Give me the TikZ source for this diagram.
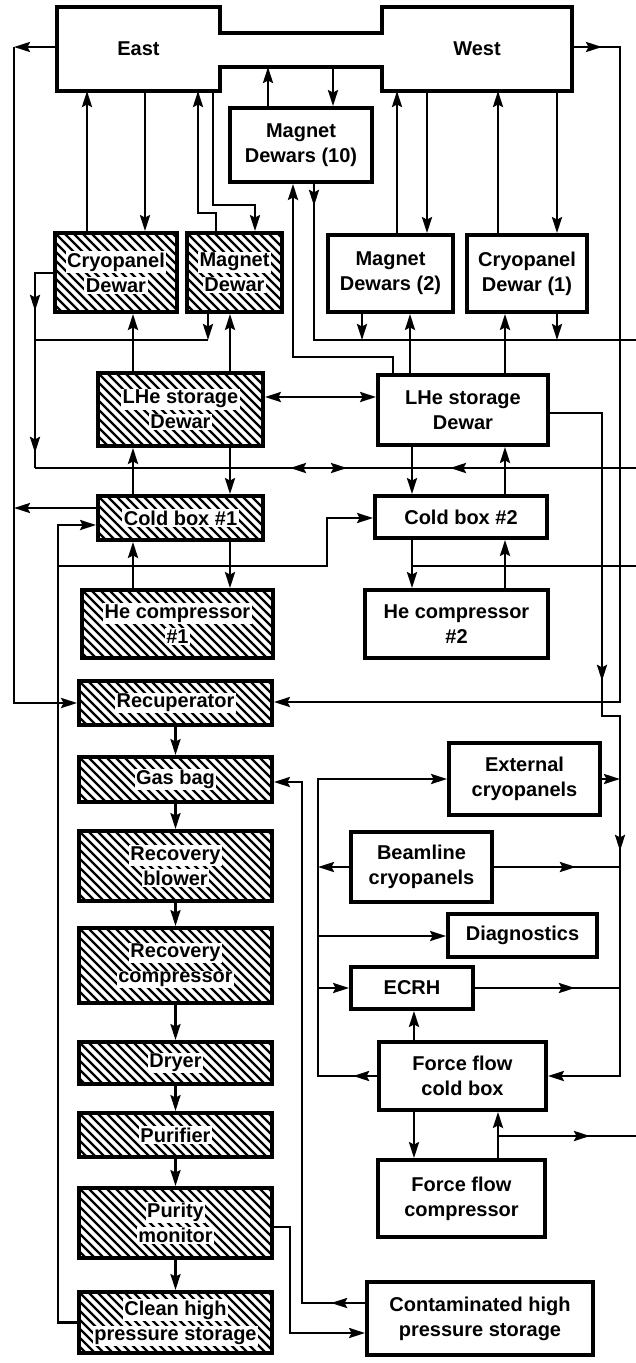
\documentclass[tikz,border=0pt]{standalone}
\usepackage{fontspec}
\setmainfont{Liberation Sans}
\usetikzlibrary{arrows.meta,decorations.markings}
\newcommand{\wl}[1]{{\setlength{\fboxsep}{1.5pt}\colorbox{white}{#1}}}
\tikzset{
  >={Stealth[length=16pt,width=10pt,inset=2.5pt]},
  conn/.style={line width=2.6pt},
  arr/.style={conn,->},
  box/.style={draw, line width=3.8pt, align=center, inner sep=0pt,
    font=\fontsize{20}{25}\selectfont\bfseries},
  hbox/.style={box, path picture={
    \foreach \s in {-90,-81,...,200}
      \draw[line width=2.2pt] ([xshift=\s pt]path picture bounding box.north west) -- ++(100pt,-100pt);}},
  ghost/.style={inner sep=0pt, outer sep=0pt, font=\fontsize{20}{25}\selectfont\bfseries},
  marr/.style={postaction={decorate,decoration={markings,mark=at position #1 with {\arrow{>}}}}},
  rarr/.style={postaction={decorate,decoration={markings,mark=at position #1 with {\arrowreversed{>}}}}},
}
\begin{document}
\begin{tikzpicture}[x=1pt,y=-1pt]
\useasboundingbox[fill=white] (0,0) rectangle (636,1363);
% top East / West block
\node[ghost, minimum width=163pt, minimum height=84pt] (east) at (138.5,49) {East};
\node[ghost, minimum width=190pt, minimum height=84pt] (west) at (477,49) {West};
\node[ghost, minimum width=162pt, minimum height=34pt] (band) at (301,50) {};
\draw[line width=3.8pt] (east.north west) -- (east.north east) -- (band.north west) -- (band.north east)
  -- (west.north west) -- (west.north east) -- (west.south east) -- (west.south west)
  -- (band.south east) -- (band.south west) -- (east.south east) -- (east.south west) -- cycle;
% boxes
\node[box, minimum width=142pt, minimum height=74pt] (md10) at (301,145) {Magnet\\Dewars (10)};
\node[hbox, minimum width=122pt, minimum height=79pt] (cryo) at (116,272.5) {\wl{Cryopanel}\\\wl{Dewar}};
\node[hbox, minimum width=95pt, minimum height=79pt] (mag) at (234.5,272.5) {\wl{Magnet}\\\wl{Dewar}};
\node[box, minimum width=125pt, minimum height=77pt] (md2) at (390.5,273.5) {Magnet\\Dewars (2)};
\node[box, minimum width=120pt, minimum height=77pt] (cd1) at (527,273.5) {Cryopanel\\Dewar (1)};
\node[hbox, minimum width=165pt, minimum height=73pt] (lhe1) at (180.5,409.5) {\wl{LHe storage}\\\wl{Dewar}};
\node[box, minimum width=170pt, minimum height=70pt] (lhe2) at (463,410) {LHe storage\\Dewar};
\node[hbox, minimum width=165pt, minimum height=44pt] (cb1) at (180.5,518) {\wl{Cold box \#1}};
\node[box, minimum width=172pt, minimum height=42pt] (cb2) at (461,517) {Cold box \#2};
\node[hbox, minimum width=191pt, minimum height=68pt] (hc1) at (177.5,624) {\wl{He compressor}\\\wl{\#1}};
\node[box, minimum width=183pt, minimum height=68pt] (hc2) at (456.5,624) {He compressor\\\#2};
\node[hbox, minimum width=193pt, minimum height=44pt] (rec) at (175.5,703) {\wl{Recuperator}};
\node[hbox, minimum width=193pt, minimum height=45pt] (gas) at (175.5,779.5) {\wl{Gas bag}};
\node[hbox, minimum width=193pt, minimum height=70pt] (blow) at (175.5,866) {\wl{Recovery}\\\wl{blower}};
\node[hbox, minimum width=193pt, minimum height=75pt] (rcomp) at (175.5,965.5) {\wl{Recovery}\\\wl{compressor}};
\node[hbox, minimum width=193pt, minimum height=42pt] (dry) at (175.5,1063) {\wl{Dryer}};
\node[hbox, minimum width=193pt, minimum height=44pt] (pur) at (175.5,1135) {\wl{Purifier}};
\node[hbox, minimum width=193pt, minimum height=70pt] (pm) at (175.5,1223) {\wl{Purity}\\\wl{monitor}};
\node[hbox, minimum width=193pt, minimum height=61pt] (clean) at (175.5,1322.5) {\wl{Clean high}\\\wl{pressure storage}};
\node[box, minimum width=151pt, minimum height=72pt] (ext) at (524.5,779) {External\\cryopanels};
\node[box, minimum width=141pt, minimum height=70pt] (beam) at (421.5,867) {Beamline\\cryopanels};
\node[box, minimum width=149pt, minimum height=43pt] (diag) at (522.5,935.5) {Diagnostics};
\node[box, minimum width=122pt, minimum height=42pt] (ecrh) at (412,988) {ECRH};
\node[box, minimum width=167pt, minimum height=68pt] (ffcb) at (462.5,1076) {Force flow\\cold box};
\node[box, minimum width=167pt, minimum height=77pt] (ffc) at (461.5,1198.5) {Force flow\\compressor};
\node[box, minimum width=226pt, minimum height=73pt] (cont) at (480,1318.5) {Contaminated high\\pressure storage};
% edge coordinates
\coordinate (tl) at (14,47);
\coordinate (bl) at (14,703);
\coordinate (e340) at (636,340);
\coordinate (e468) at (636,468);
\coordinate (e566) at (636,566);
\coordinate (e1136) at (636,1136);
% left trunk
\draw[arr] (east.west |- 0,47) -- (tl);
\draw[arr] (tl) -- (bl) -- (rec.west);
\draw[arr] (cb1.west |- 0,508) -- (14,508);
% right trunk from West
\draw[arr, marr=30pt] (west.east |- 0,47) -- (620,47) -- (620,702) -- (rec.east |- 0,702);
% East <-> Dewars
\draw[arr] (cryo.north -| 87,0) -- (east.south -| 87,0);
\draw[arr] (east.south -| 145,0) -- (cryo.north -| 145,0);
\draw[arr] (mag.north -| 216,0) -- (216,213) -- (198,213) -- (east.south -| 198,0);
\draw[arr] (east.south -| 213,0) -- (213,205) -- (255,205) -- (mag.north -| 255,0);
\draw[arr] (md10.north -| 268,0) -- (band.south -| 268,0);
\draw[arr] (band.south -| 333,0) -- (md10.north -| 333,0);
\draw[arr] (md2.north -| 397,0) -- (west.south -| 397,0);
\draw[arr] (west.south -| 427,0) -- (md2.north -| 427,0);
\draw[arr] (cd1.north -| 498,0) -- (west.south -| 498,0);
\draw[arr] (west.south -| 557,0) -- (cd1.north -| 557,0);
% cryopanel return loop and headers
\draw[conn, marr=56pt, marr=198pt] (cryo.west |- 0,273) -- (35,273) -- (35,468);
\draw[conn, marr=186pt, marr=346pt, rarr=289pt] (e468) -- (35,468);
\draw[arr] (mag.south -| 208,0) -- (208,340);
\draw[conn] (208,340) -- (35,340);
\draw[arr] (lhe1.north -| 133,0) -- (cryo.south -| 133,0);
\draw[arr] (lhe1.north -| 230,0) -- (mag.south -| 230,0);
\draw[conn,<->] (lhe1.east |- 0,397) -- (lhe2.west |- 0,397);
\draw[arr] (lhe2.north -| 393,0) -- (393,357) -- (293,357) -- (md10.south -| 293,0);
\draw[conn, marr=22pt] (md10.south -| 314,0) -- (314,340) -- (e340);
\draw[arr] (md2.south -| 362,0) -- (362,340);
\draw[arr] (lhe2.north -| 410,0) -- (md2.south -| 410,0);
\draw[arr] (lhe2.north -| 505,0) -- (cd1.south -| 505,0);
\draw[arr] (cd1.south -| 557,0) -- (557,340);
% LHe storage 2 to force flow cold box
\draw[arr, marr=320pt, marr=508pt] (lhe2.east |- 0,413) -- (602,413) -- (602,716) -- (620,716) -- (620,1076) -- (ffcb.east);
% cold boxes
\draw[arr] (lhe1.south -| 230,0) -- (cb1.north -| 230,0);
\draw[arr] (cb1.north -| 133,0) -- (lhe1.south -| 133,0);
\draw[arr] (cb1.south -| 230,0) -- (hc1.north -| 230,0);
\draw[arr] (hc1.north -| 133,0) -- (cb1.south -| 133,0);
\draw[arr] (lhe2.south -| 412,0) -- (cb2.north -| 412,0);
\draw[arr] (cb2.north -| 505,0) -- (lhe2.south -| 505,0);
\draw[arr] (cb2.south -| 412,0) -- (hc2.north -| 412,0);
\draw[arr] (hc2.north -| 505,0) -- (cb2.south -| 505,0);
\draw[conn] (412,566) -- (e566);
% clean storage return
\draw[arr] (clean.west) -- (clean.west -| 58,0) -- (58,525) -- (cb1.west |- 0,525);
\draw[arr] (58,566) -- (327,566) -- (327,518) -- (cb2.west |- 0,518);
% recovery chain
\foreach \a/\b in {rec/gas,gas/blow,blow/rcomp,rcomp/dry,dry/pur,pur/pm,pm/clean}
  \draw[arr] (\a.south) -- (\b.north);
% contaminated storage
\draw[arr, marr=34pt] (cont.west |- 0,1303) -- (302,1303) -- (302,782) -- (gas.east |- 0,782);
\draw[arr] (pm.east |- 0,1227) -- (290,1227) -- (290,1333) -- (cont.west |- 0,1333);
% force flow distribution
\draw[arr, marr=24pt] (ffcb.west) -- (318,1076) -- (318,779) -- (ext.west);
\draw[arr] (beam.west) -- (beam.west -| 318,0);
\draw[arr] (318,936) -- (diag.west |- 0,936);
\draw[arr] (318,988) -- (ecrh.west);
\draw[arr] (ext.east) -- (ext.east -| 620,0);
\draw[conn, marr=82pt] (beam.east) -- (beam.east -| 620,0);
\draw[conn, marr=100pt] (ecrh.east) -- (ecrh.east -| 620,0);
\draw[arr] (ffcb.north -| 414,0) -- (ecrh.south -| 414,0);
\draw[arr] (ffcb.south -| 414,0) -- (ffc.north -| 414,0);
\draw[arr] (ffc.north -| 498,0) -- (ffcb.south -| 498,0);
\draw[conn, marr=92pt] (498,1136) -- (e1136);
\end{tikzpicture}
\end{document}
